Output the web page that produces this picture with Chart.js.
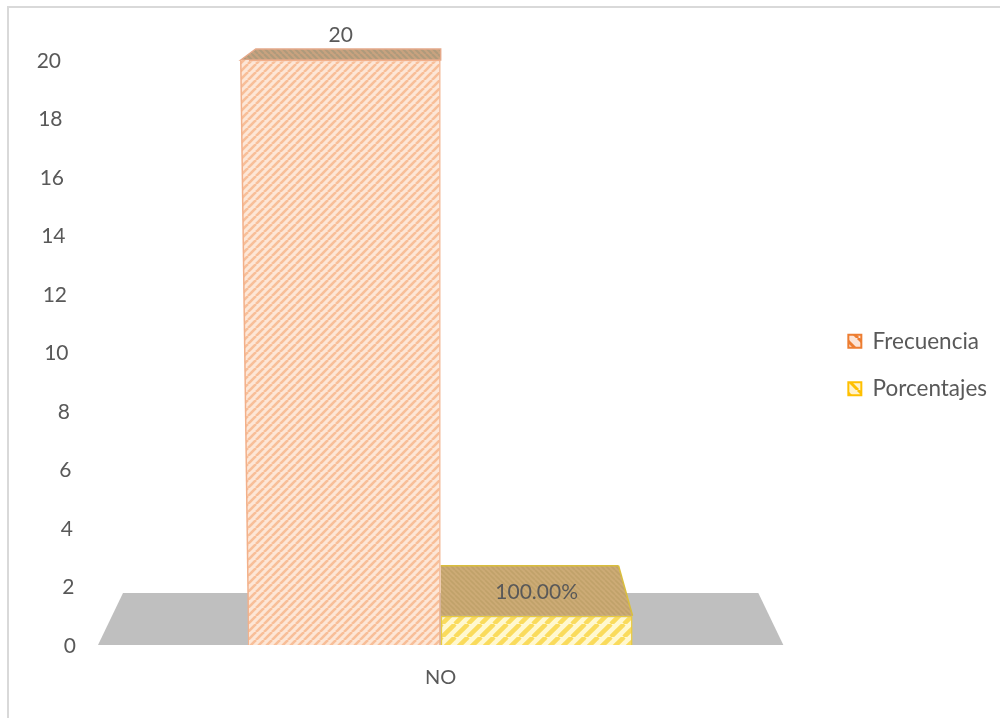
<!DOCTYPE html>
<html>
<head>
<meta charset="utf-8">
<title>Frecuencia</title>
<script src="https://cdn.jsdelivr.net/npm/chart.js@4/dist/chart.umd.min.js"></script>
<style>
html, body { margin: 0; padding: 0; background: #fff; overflow: hidden; }
#wrap { width: 1000px; height: 718px; }
</style>
</head>
<body>
<div id="wrap"><canvas id="grafico" width="1000" height="718"></canvas></div>
<script>
var categories = ['NO'];
var seriesNames = ['Frecuencia', 'Porcentajes'];
var frecuencia = [20];
var porcentajes = [1];
var dataLabels = ['20', '100.00%'];
var yTicks = [0, 2, 4, 6, 8, 10, 12, 14, 16, 18, 20];

var textColor = '#595959';
var fontFamily = 'Lato, "Open Sans", sans-serif';

function MakeHatch(back, line, size, width, flip){
    var c = document.createElement('canvas');
    c.width = size;
    c.height = size;
    var g = c.getContext('2d');
    g.fillStyle = back;
    g.fillRect(0, 0, size, size);
    g.strokeStyle = line;
    g.lineWidth = width;
    for (var i = -1; i <= 1; i++){
        g.beginPath();
        if (flip){
            g.moveTo(i * size, 0);
            g.lineTo(i * size + size, size);
        } else {
            g.moveTo(i * size, size);
            g.lineTo(i * size + size, 0);
        }
        g.stroke();
    }
    return g.createPattern(c, 'repeat');
}

function Polygon(ctx, points, fill, stroke){
    ctx.beginPath();
    points.forEach(function(p, i){
        if (i == 0) ctx.moveTo(p[0], p[1]);
        else ctx.lineTo(p[0], p[1]);
    });
    ctx.closePath();
    ctx.fillStyle = fill;
    ctx.fill();
    if (stroke){
        ctx.strokeStyle = stroke;
        ctx.lineWidth = 1.5;
        ctx.stroke();
    }
}

function Edge(ctx, x1, y1, x2, y2, color){
    ctx.beginPath();
    ctx.moveTo(x1, y1);
    ctx.lineTo(x2, y2);
    ctx.strokeStyle = color;
    ctx.lineWidth = 1.5;
    ctx.stroke();
}

var orangeHatch = MakeHatch('#FDE6D6', '#F8BE98', 8, 2.6, false);
var yellowHatch = MakeHatch('#FFF8D0', '#FADB5C', 13, 4.5, false);
var orangeTop = MakeHatch('#C9A27F', '#AE9A7C', 6, 2, true);
var yellowTop = MakeHatch('#CDAB76', '#C0A26A', 5, 1.6, true);
var orangeKey = MakeHatch('#FCE4D6', '#ED7D31', 13, 3, true);
var yellowKey = MakeHatch('#FFF2CC', '#FFC000', 13, 3, true);

// floor, frame, 3D faces and labels that Chart.js has no option for
var faces3d = {
    id: 'faces3d',
    beforeDraw: function(chart){
        var ctx = chart.ctx;
        ctx.save();
        ctx.fillStyle = '#fff';
        ctx.fillRect(0, 0, chart.width, chart.height);
        ctx.strokeStyle = '#D9D9D9';
        ctx.lineWidth = 2;
        ctx.beginPath();
        ctx.moveTo(8, chart.height);
        ctx.lineTo(8, 7);
        ctx.lineTo(chart.width, 7);
        ctx.stroke();
        ctx.restore();
    },
    beforeDatasetsDraw: function(chart){
        var ctx = chart.ctx;
        var area = chart.chartArea;
        var a = chart.getDatasetMeta(0).data[0];
        var b = chart.getDatasetMeta(1).data[0];
        var aLeft = a.x - a.width / 2, aRight = a.x + a.width / 2;
        var bLeft = b.x - b.width / 2, bRight = b.x + b.width / 2;
        ctx.save();
        Polygon(ctx, [[area.left, area.bottom], [area.right, area.bottom], [area.right - 25, area.bottom - 52], [area.left + 25, area.bottom - 52]], '#BFBFBF');
        // back faces seen above each bar
        Polygon(ctx, [[aLeft - 8, a.y], [aLeft + 7, a.y - 11], [aRight, a.y - 11], [aRight, a.y]], orangeTop, '#E5A98A');
        Polygon(ctx, [[bLeft, b.y], [bLeft, b.y - 50], [bRight - 14, b.y - 50], [bRight, b.y]], yellowTop);
        Edge(ctx, bLeft, b.y - 50, bRight - 14, b.y - 50, '#D9BE3E');
        Edge(ctx, bRight - 14, b.y - 50, bRight, b.y, '#D9BE3E');
        // slanted left edge of the tall bar
        Polygon(ctx, [[aLeft - 8, a.y], [aLeft + 1, a.y], [aLeft + 1, a.base], [aLeft, a.base]], orangeHatch);
        Edge(ctx, aLeft - 8, a.y, aLeft, a.base, '#F2B08A');
        ctx.restore();
    },
    afterDatasetsDraw: function(chart){
        var ctx = chart.ctx;
        var area = chart.chartArea;
        var y = chart.scales.y;
        var a = chart.getDatasetMeta(0).data[0];
        var b = chart.getDatasetMeta(1).data[0];
        ctx.save();
        ctx.font = '21px ' + fontFamily;
        ctx.fillStyle = textColor;
        ctx.textAlign = 'center';
        ctx.textBaseline = 'middle';
        ctx.fillText(dataLabels[0], a.x - 4, a.y - 25);
        ctx.fillText(dataLabels[1], b.x, b.y - 24);
        // y labels follow the perspective of the wall, so they lean left going up
        ctx.textAlign = 'right';
        y.ticks.forEach(function(t){
            var py = y.getPixelForValue(t.value);
            var lean = 15 * (area.bottom - py) / (area.bottom - area.top);
            ctx.fillText(String(t.value), area.left - 22 - lean, py + 1);
        });
        ctx.restore();
    }
};

var ctx = document.getElementById('grafico').getContext('2d');
var chart = new Chart(ctx, {
    type: 'bar',
    data: {
        labels: categories,
        datasets: [{
            label: seriesNames[0],
            data: frecuencia,
            backgroundColor: orangeHatch,
            borderColor: '#F2B08A',
            borderWidth: { top: 1.5, right: 1.5, bottom: 1.5, left: 0 }
        }, {
            label: seriesNames[1],
            data: porcentajes,
            backgroundColor: yellowHatch,
            borderColor: '#EBCB3C',
            borderWidth: 1.5
        }]
    },
    options: {
        responsive: false,
        animation: false,
        layout: { padding: { top: 35, right: 12, bottom: 23, left: 0 } },
        datasets: { bar: { barPercentage: 1, categoryPercentage: 0.56 } },
        scales: {
            x: {
                grid: { display: false },
                border: { display: false },
                ticks: { color: textColor, padding: 13, font: { family: fontFamily, size: 20 } },
                afterFit: function(scale){ scale.height = 50; }
            },
            y: {
                min: 0,
                max: 20,
                grid: { display: false },
                border: { display: false },
                ticks: { display: false },
                afterBuildTicks: function(axis){
                    axis.ticks = yTicks.map(function(v){ return { value: v }; });
                },
                afterFit: function(scale){ scale.width = 98; }
            },
            gap: {
                axis: 'y',
                position: 'right',
                grid: { display: false },
                border: { display: false },
                ticks: { display: false },
                afterFit: function(scale){ scale.width = 40; }
            },
            gapTop: {
                axis: 'x',
                position: 'top',
                grid: { display: false },
                border: { display: false },
                ticks: { display: false },
                afterFit: function(scale){ scale.height = 25; }
            }
        },
        plugins: {
            tooltip: { enabled: false },
            legend: {
                position: 'right',
                labels: {
                    color: textColor,
                    boxWidth: 13,
                    boxHeight: 13,
                    padding: 25,
                    font: { family: fontFamily, size: 22.5 },
                    generateLabels: function(c){
                        return seriesNames.map(function(name, i){
                            return {
                                text: name,
                                fillStyle: i == 0 ? orangeKey : yellowKey,
                                strokeStyle: i == 0 ? '#ED7D31' : '#FFC000',
                                lineWidth: 2,
                                fontColor: textColor,
                                datasetIndex: i
                            };
                        });
                    }
                }
            }
        }
    },
    plugins: [faces3d]
});
</script>
</body>
</html>
